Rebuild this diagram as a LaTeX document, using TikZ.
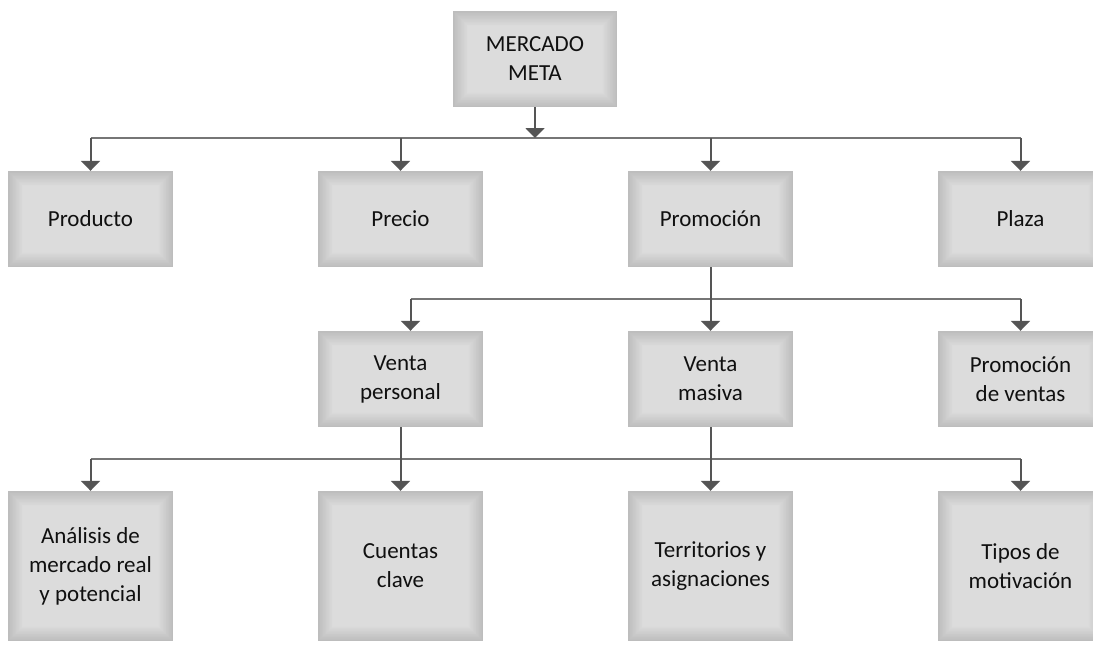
\documentclass[tikz,border=0pt]{standalone}
\usepackage{fontspec}
\setmainfont{Carlito}
\usetikzlibrary{arrows.meta,calc}

\definecolor{arrowgray}{HTML}{555555}
\definecolor{busgray}{HTML}{767676}
\definecolor{inkgray}{HTML}{101010}

\tikzset{
  pillow/.style={
    rectangle, inner sep=0pt, align=center, text=inkgray,
    font=\fontsize{23}{29}\selectfont,
    minimum width=165pt, minimum height=96pt,
    path picture={
      \foreach \i in {0,...,20}{
        \pgfmathsetmacro\tone{26-\i*0.62}
        \fill[black!\tone]
          ($(path picture bounding box.south west)+(\i*0.75,-\i*0.75)$) rectangle
          ($(path picture bounding box.north east)+(-\i*0.75,\i*0.75)$);
      }
    }},
  tallpillow/.style={pillow, minimum height=150pt},
  arr/.style={draw=arrowgray, line width=2pt,
    -{Triangle[width=19pt,length=10pt]}},
  bus/.style={draw=busgray, line width=1.6pt},
}

\begin{document}
\begin{tikzpicture}[x=1pt,y=-1pt]
\useasboundingbox (0,0) rectangle (1093,645);

% top box
\node[pillow, minimum width=164pt] (meta) at (535,59) {MERCADO\\META};

% marketing mix
\node[pillow] (producto) at (90.5,219) {Producto};
\node[pillow] (precio)   at (400.5,219) {Precio};
\node[pillow] (promo)    at (710.5,219) {Promoción};
\node[pillow] (plaza)    at (1020.5,219) {Plaza};

% promotion branches
\node[pillow] (vpers)   at (400.5,379) {Venta\\personal};
\node[pillow] (vmas)    at (710.5,379) {Venta\\masiva};
\node[pillow] (pventas) at (1020.5,379) {Promoción\\de ventas};

% personal selling tasks
\node[tallpillow] (analisis) at (90.5,566) {Análisis de\\mercado real\\y potencial};
\node[tallpillow] (cuentas)  at (400.5,566) {Cuentas\\clave};
\node[tallpillow] (territ)   at (710.5,566) {Territorios y\\asignaciones};
\node[tallpillow] (tipos)    at (1020.5,566) {Tipos de\\motivación};

% first level connectors
\coordinate (b1) at (535,138);
\draw[bus] (producto.north |- b1) -- (plaza.north |- b1);
\draw[arr] (meta.south) -- (b1);
\foreach \n in {producto,precio,promo,plaza}
  \draw[arr] (\n.north |- b1) -- (\n.north);

% second level connectors
\coordinate (b2) at (710.5,299);
\coordinate (vpin) at ($(vpers.north)+(10,0)$);
\draw[bus] (vpin |- b2) -- (pventas.north |- b2);
\draw[arr] (promo.south) -- (vmas.north);
\draw[arr] (vpin |- b2) -- (vpin);
\draw[arr] (pventas.north |- b2) -- (pventas.north);

% third level connectors
\coordinate (b3) at (400.5,459);
\draw[bus] (analisis.north |- b3) -- (tipos.north |- b3);
\draw[arr] (vpers.south) -- (cuentas.north);
\draw[arr] (vmas.south) -- (territ.north);
\draw[arr] (analisis.north |- b3) -- (analisis.north);
\draw[arr] (tipos.north |- b3) -- (tipos.north);
\end{tikzpicture}
\end{document}
